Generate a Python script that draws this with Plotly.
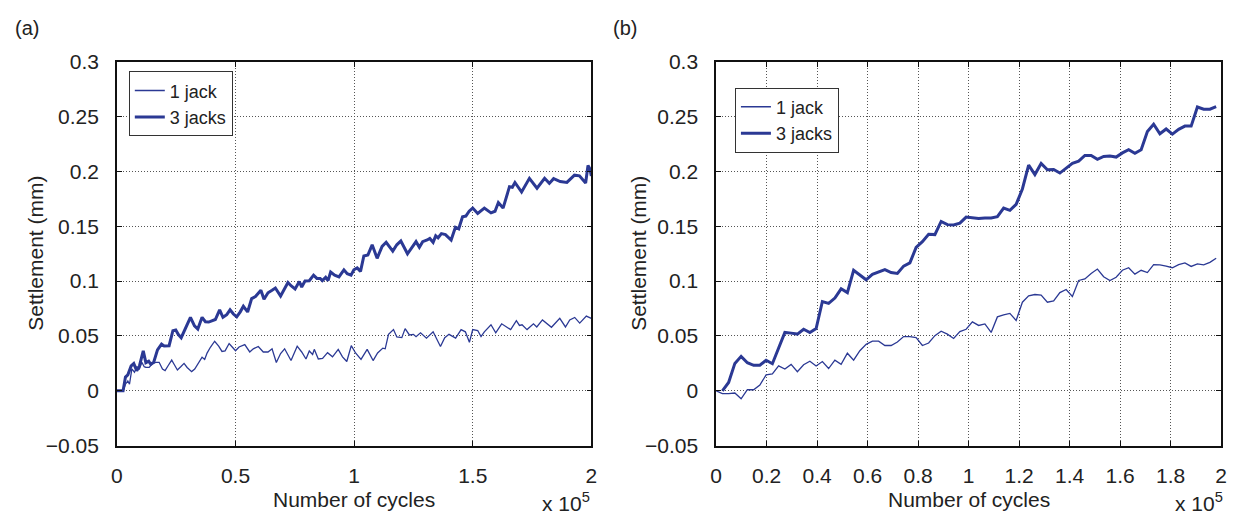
import plotly.graph_objects as go

# ---------------- Panel (a) data ----------------
cycles_a_1jack = [0, 2600, 3600, 4600, 5300, 6300, 7400, 8400, 9500, 10500, 11500, 12200, 13600, 15000,
                  16400, 17800, 19200, 20300, 21700, 23100, 24100, 25500, 26900, 28300, 29600, 31500,
                  32800, 34500, 35900, 37000, 38000, 39400, 41200, 42900, 44300, 45600, 47300, 48700,
                  50000, 51500, 53900, 56000, 57500, 59600, 61700, 63700, 65400, 67200, 69000, 70700,
                  73400, 76000, 77900, 79700, 81100, 82500, 83200, 84900, 86700, 88800, 90900, 93300,
                  95100, 96900, 98800, 100600, 102900, 105500, 108000, 109900, 112100, 113100, 114500,
                  116600, 118000, 120100, 121500, 123300, 125000, 126100, 128000, 130500, 133300,
                  136400, 138200, 140000, 142800, 145100, 146900, 148600, 150000, 152100, 153500,
                  154900, 157700, 159700, 162200, 166000, 168400, 169700, 170800, 172900, 175600,
                  177000, 179400, 183200, 186700, 189100, 190900, 193000, 195100, 197900, 200000]
settle_a_1jack = [0, 0, 0.006, 0.009, 0.006, 0.020, 0.017, 0.022, 0.020, 0.026, 0.022, 0.0213, 0.0213, 0.025,
                  0.026, 0.026, 0.0198, 0.0184, 0.0233, 0.028, 0.0242, 0.019, 0.0219, 0.025, 0.0213, 0.0175,
                  0.0198, 0.026, 0.0306, 0.0286, 0.0344, 0.0397, 0.0452, 0.0408, 0.0359, 0.0364, 0.0431, 0.0397,
                  0.0365, 0.040, 0.0421, 0.0354, 0.0383, 0.0404, 0.0354, 0.0354, 0.0383, 0.0258, 0.034, 0.0383,
                  0.0276, 0.0407, 0.0354, 0.029, 0.0363, 0.0331, 0.0378, 0.029, 0.0296, 0.0348, 0.031, 0.0378,
                  0.031, 0.0267, 0.0412, 0.0345, 0.0287, 0.0378, 0.0276, 0.0345, 0.0389, 0.0383, 0.0515,
                  0.0558, 0.0491, 0.0485, 0.0567, 0.0509, 0.0515, 0.0494, 0.0529, 0.048, 0.0538,
                  0.0404, 0.0485, 0.0515, 0.048, 0.0558, 0.0538, 0.0442, 0.0558, 0.055, 0.0494,
                  0.0538, 0.0602, 0.0529, 0.0611, 0.0558, 0.064, 0.0596, 0.0602, 0.0558, 0.0611,
                  0.0582, 0.0646, 0.0579, 0.066, 0.0582, 0.0646, 0.0669, 0.0617, 0.0681, 0.066]

cycles_a_3jacks = [0, 2600, 3600, 4600, 6000, 7100, 8350, 9500, 11100, 12200, 13400, 14300, 15500, 17100,
                   18800, 19900, 22000, 23600, 24800, 25900, 27100, 29200, 31000, 32700, 34100, 35900,
                   37300, 38700, 40400, 41500, 43300, 44700, 46300, 47700, 49100, 50500, 52000, 53300,
                   55100, 56800, 58400, 60700, 62000, 63700, 65400, 66800, 69000, 70700, 72100, 73400,
                   75100, 76900, 77900, 79300, 81100, 82900, 84300, 85700, 86600, 88000, 89000, 90100,
                   91800, 93600, 95700, 97100, 98700, 99900, 101300, 102700, 104100, 105800, 107600,
                   109700, 111800, 113500, 116300, 118000, 119700, 122500, 124300, 126100, 127500,
                   128900, 130800, 131900, 133300, 134400, 135400, 136800, 138500, 140900, 142700,
                   144100, 145700, 147100, 148500, 150000, 152100, 154900, 157700, 159400, 160800,
                   162800, 165500, 166700, 167800, 170600, 173900, 177100, 180300, 182300, 184100,
                   186900, 189700, 192900, 195000, 197600, 198600, 199400, 200000]
settle_a_3jacks = [0, 0, 0.0125, 0.0146, 0.0227, 0.0248, 0.0184, 0.0227, 0.0364, 0.0257, 0.0271, 0.0242, 0.026,
                   0.0373, 0.0426, 0.0408, 0.0411, 0.0548, 0.0554, 0.0513, 0.0484, 0.0592, 0.067, 0.0592,
                   0.0563, 0.067, 0.063, 0.0627, 0.0641, 0.065, 0.0738, 0.067, 0.0694, 0.0738, 0.070, 0.0675,
                   0.072, 0.0771, 0.0719, 0.0841, 0.0859, 0.0917, 0.0835, 0.0894, 0.0917, 0.0937, 0.0864,
                   0.0937, 0.0987, 0.0958, 0.0929, 0.0996, 0.0946, 0.1001, 0.1004, 0.1054, 0.1025, 0.1025,
                   0.1004, 0.1034, 0.1004, 0.1083, 0.1054, 0.1039, 0.1103, 0.1068, 0.1054, 0.1103, 0.1121,
                   0.1089, 0.1229, 0.1238, 0.1331, 0.1208, 0.1316, 0.1354, 0.1273, 0.1331, 0.1366, 0.1249,
                   0.1308, 0.1360, 0.1308, 0.1360, 0.1375, 0.1389, 0.1354, 0.1413, 0.1395, 0.1433, 0.1424,
                   0.1375, 0.1491, 0.1477, 0.1587, 0.1593, 0.1637, 0.1666, 0.1617, 0.1666, 0.1622, 0.1637,
                   0.1716, 0.1666, 0.1861, 0.1856, 0.1899, 0.1812, 0.1937, 0.1847, 0.1937, 0.1891, 0.1934,
                   0.1908, 0.1900, 0.1966, 0.1960, 0.1894, 0.2054, 0.2025, 0.1958]

# ---------------- Panel (b) data ----------------
cycles_b = [0, 2475, 4950, 7425, 9900, 12375, 14850, 17325, 19800, 22275, 24750, 27225, 29700, 32175,
            34650, 37125, 39600, 42075, 44550, 47025, 49500, 51975, 54450, 56925, 59400, 61875, 64350,
            66825, 69300, 71775, 74250, 76725, 79200, 81675, 84150, 86625, 89100, 91575, 94050, 96525,
            99000, 101475, 103950, 106425, 108900, 111375, 113850, 116325, 118800, 121275, 123750,
            126225, 128700, 131175, 133650, 136125, 138600, 141075, 143550, 146025, 148500, 150975,
            153450, 155925, 158400, 160875, 163350, 165825, 168300, 170775, 173250, 175725, 178200,
            180675, 183150, 185625, 188100, 190575, 193050, 195525, 198000]
settle_b_1jack = [0, -0.0026, -0.0026, -0.002, -0.0073, 0.001, 0.001, 0.0052, 0.0145, 0.0154,
                  0.0227, 0.0198, 0.0241, 0.0174, 0.0238, 0.027, 0.0227, 0.0267, 0.0203, 0.0279,
                  0.0241, 0.0343, 0.0279, 0.0366, 0.0424, 0.0453, 0.0453, 0.0413, 0.0413, 0.0445,
                  0.0494, 0.0494, 0.0485, 0.0413, 0.0436, 0.0503, 0.0544, 0.0517, 0.0477, 0.054,
                  0.0561, 0.0628, 0.0596, 0.061, 0.0532, 0.0674, 0.0692, 0.0706, 0.0642, 0.0808,
                  0.0866, 0.0878, 0.0872, 0.0808, 0.082, 0.0895, 0.0924, 0.086, 0.1006, 0.102,
                  0.107, 0.111, 0.104, 0.1006, 0.1035, 0.1099, 0.1122, 0.1064, 0.1099, 0.1078,
                  0.1151, 0.1148, 0.1137, 0.1122, 0.1151, 0.1166, 0.1134, 0.1157, 0.1148, 0.1171, 0.1209]
settle_b_3jacks = [0, 0.0076, 0.025, 0.0314, 0.0256, 0.0233, 0.0233, 0.0279, 0.0247, 0.0387,
                   0.0532, 0.0526, 0.0517, 0.0561, 0.0532, 0.0567, 0.0814, 0.0797, 0.0846, 0.093,
                   0.0895, 0.1099, 0.1055, 0.1012, 0.1061, 0.1084, 0.1105, 0.1078, 0.107, 0.1137,
                   0.1166, 0.1308, 0.136, 0.1427, 0.1424, 0.1544, 0.1515, 0.1512, 0.1529, 0.1584,
                   0.1578, 0.157, 0.1576, 0.1576, 0.1587, 0.1666, 0.1645, 0.17, 0.184, 0.2058,
                   0.1971, 0.2073, 0.2015, 0.2017, 0.1985, 0.2029, 0.2073, 0.2093, 0.2145, 0.2145,
                   0.211, 0.2137, 0.214, 0.2131, 0.2169, 0.2198, 0.2166, 0.2198, 0.2363, 0.243,
                   0.2343, 0.2387, 0.234, 0.2384, 0.2413, 0.2413, 0.2587, 0.2567, 0.2567, 0.259]

# ---------------- Tick labels ----------------
xticks_a = [0, 50000, 100000, 150000, 200000]
xtext_a = ["0", "0.5", "1", "1.5", "2"]
xticks_b = [0, 20000, 40000, 60000, 80000, 100000, 120000, 140000, 160000, 180000, 200000]
xtext_b = ["0", "0.2", "0.4", "0.6", "0.8", "1", "1.2", "1.4", "1.6", "1.8", "2"]
yticks = [-0.05, 0, 0.05, 0.1, 0.15, 0.2, 0.25, 0.3]
ytext = ["\u22120.05", "0", "0.05", "0.1", "0.15", "0.2", "0.25", "0.3"]

W, H = 1249, 526
FONT = "Liberation Sans, Arial, Helvetica, sans-serif"
TXT = "#222222"
LINE = "#2b3994"
GRID = "#555555"

fig = go.Figure()
fig.add_trace(go.Scatter(x=cycles_a_1jack, y=settle_a_1jack, mode="lines", name="1 jack",
                         line=dict(color=LINE, width=1.3), xaxis="x", yaxis="y", legend="legend"))
fig.add_trace(go.Scatter(x=cycles_a_3jacks, y=settle_a_3jacks, mode="lines", name="3 jacks",
                         line=dict(color=LINE, width=3), xaxis="x", yaxis="y", legend="legend"))
fig.add_trace(go.Scatter(x=cycles_b, y=settle_b_1jack, mode="lines", name="1 jack",
                         line=dict(color=LINE, width=1.3), xaxis="x2", yaxis="y2", legend="legend2"))
fig.add_trace(go.Scatter(x=cycles_b[1:], y=settle_b_3jacks, mode="lines", name="3 jacks",
                         line=dict(color=LINE, width=3), xaxis="x2", yaxis="y2", legend="legend2"))

dom_a = [112 / W, 591 / W]
dom_b = [717 / W, 1227 / W]
dom_y = [(H - 453.5) / H, (H - 52) / H]

def xax(domain, tv, tt, anchor):
    return dict(domain=domain, range=[0, 200000], tickvals=tv, ticktext=tt, anchor=anchor,
                showgrid=True, gridcolor=GRID, griddash="1px,2px", gridwidth=1, zeroline=False,
                showline=True, linecolor="#111", linewidth=1.6, mirror="ticks",
                ticks="inside", ticklen=5, tickcolor="#111", ticklabelstandoff=10,
                tickfont=dict(family=FONT, size=21, color=TXT))

def yax(anchor):
    return dict(domain=dom_y, range=[-0.05, 0.3], tickvals=yticks, ticktext=ytext, anchor=anchor,
                showgrid=True, gridcolor=GRID, griddash="1px,2px", gridwidth=1, zeroline=False,
                showline=True, linecolor="#111", linewidth=1.6, mirror="ticks",
                ticks="inside", ticklen=5, tickcolor="#111", ticklabelstandoff=12,
                tickfont=dict(family=FONT, size=21, color=TXT))

legend_style = dict(font=dict(family=FONT, size=18, color=TXT), bgcolor="white",
                    bordercolor="#333", borderwidth=1, xanchor="left", yanchor="top",
                    tracegroupgap=0, itemwidth=30)

annotations = []
for txt, x, y, size, angle, xa in [
    ("(a)", 7 / W, (H - 17) / H, 20, 0, "left"),
    ("(b)", 611 / W, (H - 17) / H, 20, 0, "left"),
    ("Settlement (mm)", 30 / W, (H - 252) / H, 21, -90, "center"),
    ("Settlement (mm)", 639 / W, (H - 252) / H, 21, -90, "center"),
    ("Number of cycles", 351 / W, (H - 510) / H, 21, 0, "center"),
    ("Number of cycles", 972 / W, (H - 510) / H, 21, 0, "center"),
    ("x 10<sup>5</sup>", 592 / W, (H - 512) / H, 21, 0, "right"),
    ("x 10<sup>5</sup>", 1231 / W, (H - 512) / H, 21, 0, "right"),
]:
    annotations.append(dict(text=txt, x=x, y=y, xref="paper", yref="paper", showarrow=False,
                            textangle=angle, xanchor=xa, yanchor="middle",
                            font=dict(family=FONT, size=size, color=TXT)))

fig.update_layout(
    width=W, height=H, autosize=False, margin=dict(l=0, r=0, t=0, b=0),
    paper_bgcolor="white", plot_bgcolor="white",
    xaxis=xax(dom_a, xticks_a, xtext_a, "y"),
    yaxis=yax("x"),
    xaxis2=xax(dom_b, xticks_b, xtext_b, "y2"),
    yaxis2=yax("x2"),
    legend=dict(x=124 / W, y=(H - 62) / H, **legend_style),
    legend2=dict(x=736 / W, y=(H - 79) / H, **legend_style),
    annotations=annotations,
    showlegend=True,
)

fig.write_html("out.html")
